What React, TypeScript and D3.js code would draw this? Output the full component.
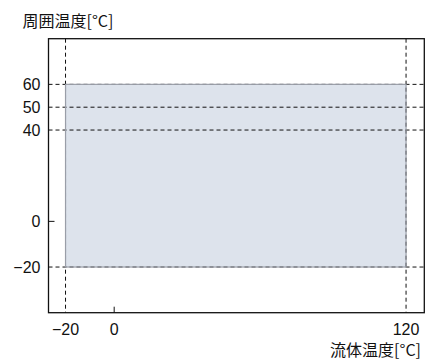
import React from "react";
import * as d3 from "d3";

// Operating range: fluid temperature vs ambient temperature
const fluidRange: [number, number] = [-20, 120];
const ambientRange: [number, number] = [-20, 60];
const xTickLabels = [-20, 0, 120];
const yTickLabels = [60, 50, 40, 0, -20];
const xGuideValues = [-20, 120];
const yGuideValues = [60, 50, 40, -20];
const xTickMarks = [0];
const yTickMarks = [0];
const xTitle = "流体温度[°C]";
const yTitle = "周囲温度[°C]";

const W = 426;
const H = 360;
const left = 48.5;
const right = 424.3;
const top = 38.7;
const bottom = 312.7;

const fmt = (v: number) => (v < 0 ? "\u2212" + Math.abs(v) : String(v));

const numStyle: React.CSSProperties = {
  fontFamily: '"Liberation Sans", serif',
  fontSize: "16px",
};
const cjkStyle: React.CSSProperties = {
  fontFamily: '"Noto Sans CJK JP", sans-serif',
  fontSize: "16px",
};

export default function App() {
  const x = d3.scaleLinear().domain([-27, 127.5]).range([left, right]);
  const y = d3.scaleLinear().domain([-40, 80]).range([bottom, top]);

  const rx0 = x(fluidRange[0]);
  const rx1 = x(fluidRange[1]);
  const ry0 = y(ambientRange[1]);
  const ry1 = y(ambientRange[0]);

  return (
    <svg
      width={W}
      height={H}
      style={{ position: "absolute", left: 0, top: 0, background: "#fff" }}
    >
      {/* operating area fill */}
      <rect x={rx0} y={ry0} width={rx1 - rx0} height={ry1 - ry0} fill="#dde3ec" />

      {/* guide lines */}
      {yGuideValues.map((v) => (
        <line
          key={"gy" + v}
          x1={left}
          x2={right}
          y1={y(v)}
          y2={y(v)}
          stroke="#111"
          strokeWidth={1}
          strokeDasharray="4,3"
        />
      ))}
      {xGuideValues.map((v) => (
        <line
          key={"gx" + v}
          x1={x(v)}
          x2={x(v)}
          y1={top}
          y2={bottom}
          stroke="#111"
          strokeWidth={1}
          strokeDasharray="4,3"
        />
      ))}

      {/* operating area outline */}
      <rect
        x={rx0}
        y={ry0}
        width={rx1 - rx0}
        height={ry1 - ry0}
        fill="none"
        stroke="#9a9ea8"
        strokeWidth={1.2}
      />

      {/* frame */}
      <rect
        x={left}
        y={top}
        width={right - left}
        height={bottom - top}
        fill="none"
        stroke="#111"
        strokeWidth={1.3}
      />

      {/* tick marks */}
      {xTickMarks.map((v) => (
        <line key={"tx" + v} x1={x(v)} x2={x(v)} y1={bottom} y2={bottom - 6} stroke="#111" strokeWidth={1} />
      ))}
      {yTickMarks.map((v) => (
        <line key={"ty" + v} x1={left} x2={left + 6} y1={y(v)} y2={y(v)} stroke="#111" strokeWidth={1} />
      ))}

      {/* tick labels */}
      {yTickLabels.map((v) => (
        <text
          key={"ly" + v}
          x={40.5}
          y={y(v)}
          dy="0.35em"
          textAnchor="end"
          style={numStyle}
          fill="#111"
        >
          {fmt(v)}
        </text>
      ))}
      {xTickLabels.map((v) => (
        <text
          key={"lx" + v}
          x={x(v)}
          y={335}
          textAnchor="middle"
          style={numStyle}
          fill="#111"
        >
          {fmt(v)}
        </text>
      ))}

      {/* axis titles */}
      <text x={22.5} y={26.5} style={cjkStyle} fill="#111">
        {yTitle}
      </text>
      <text x={421} y={356} textAnchor="end" style={cjkStyle} fill="#111">
        {xTitle}
      </text>
    </svg>
  );
}
